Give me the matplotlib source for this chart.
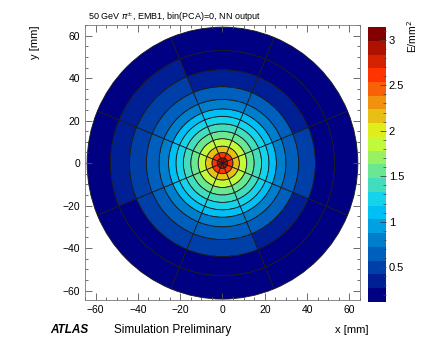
import matplotlib
matplotlib.use("Agg")
import matplotlib.pyplot as plt
import numpy as np
from matplotlib.patches import Wedge
from matplotlib.collections import PatchCollection
from matplotlib.colors import LinearSegmentedColormap, BoundaryNorm
from matplotlib.ticker import MultipleLocator

plt.rcParams['font.family'] = ['Liberation Sans', 'DejaVu Sans']

# radial bin edges [mm] and angular bin edges [deg]
r_edges = [0, 2.5, 5, 8, 11.5, 15, 18.5, 22, 25.5, 30, 36, 44, 53, 64]
phi_edges = [-22.5, 22.5, 67.5, 112.5, 157.5, 202.5, 247.5, 292.5, 337.5]

# energy density per ring (rows) and sector (cols: right, up-right, up, up-left,
# left, down-left, down, down-right)
energy = [
    [2.95, 2.95, 2.95, 2.95, 2.95, 2.95, 2.95, 2.95],
    [2.60, 2.60, 2.60, 2.60, 2.60, 2.60, 2.60, 2.60],
    [2.10, 2.10, 2.10, 2.10, 2.10, 2.10, 2.10, 2.10],
    [1.85, 1.85, 1.85, 1.85, 1.85, 1.85, 1.85, 1.85],
    [1.60, 1.60, 1.60, 1.60, 1.60, 1.60, 1.60, 1.60],
    [1.40, 1.40, 1.40, 1.40, 1.40, 1.40, 1.40, 1.40],
    [1.22, 1.22, 1.22, 1.22, 1.22, 1.22, 1.22, 1.22],
    [1.05, 1.05, 1.05, 1.05, 1.05, 1.05, 1.05, 1.05],
    [0.85, 0.85, 0.85, 0.85, 0.85, 0.85, 0.85, 0.85],
    [0.62, 0.60, 0.62, 0.62, 0.62, 0.62, 0.62, 0.60],
    [0.45, 0.30, 0.42, 0.45, 0.45, 0.45, 0.45, 0.42],
    [0.22, 0.15, 0.18, 0.30, 0.30, 0.20, 0.20, 0.20],
    [0.15, 0.15, 0.15, 0.15, 0.15, 0.15, 0.15, 0.15],
]

zmin, zmax = 0.12, 3.14
n_levels = 20

# ROOT style rainbow palette
stops = [0.00, 0.34, 0.61, 0.84, 1.00]
red = [0.00, 0.00, 0.87, 1.00, 0.51]
green = [0.00, 0.81, 1.00, 0.20, 0.00]
blue = [0.51, 1.00, 0.12, 0.00, 0.00]
cmap = LinearSegmentedColormap.from_list(
    'rootpal', [(s, (r, g, b)) for s, r, g, b in zip(stops, red, green, blue)])
levels = np.linspace(zmin, zmax, n_levels + 1)
norm = BoundaryNorm(levels, cmap.N)

fig = plt.figure(figsize=(4.27, 3.38), dpi=100)
ax = fig.add_axes([0.199, 0.112, 0.644, 0.814])

patches = []
vals = []
for i in range(len(r_edges) - 1):
    for j in range(len(phi_edges) - 1):
        patches.append(Wedge((0, 0), r_edges[i + 1], phi_edges[j], phi_edges[j + 1],
                             width=r_edges[i + 1] - r_edges[i]))
        vals.append(energy[i][j])

pc = PatchCollection(patches, cmap=cmap, norm=norm, edgecolor='#1a1a1a', linewidth=0.6)
pc.set_array(np.array(vals))
ax.add_collection(pc)

ax.set_xlim(-65, 65)
ax.set_ylim(-64.5, 65)
ax.xaxis.set_major_locator(MultipleLocator(20))
ax.xaxis.set_minor_locator(MultipleLocator(5))
ax.yaxis.set_major_locator(MultipleLocator(20))
ax.yaxis.set_minor_locator(MultipleLocator(5))
ax.tick_params(which='both', direction='in', top=True, right=True, labelsize=7.5,
               width=0.6, color='#555555')
ax.tick_params(which='major', length=5)
ax.tick_params(which='minor', length=2.5)
for s in ax.spines.values():
    s.set_linewidth(0.6)
    s.set_color('#777777')

cax = fig.add_axes([0.862, 0.107, 0.042, 0.813])
cb = fig.colorbar(pc, cax=cax, boundaries=levels, ticks=[0.5, 1, 1.5, 2, 2.5, 3])
cb.ax.set_yticklabels(['0.5', '1', '1.5', '2', '2.5', '3'])
cb.outline.set_visible(False)
cb.ax.tick_params(direction='in', length=4, width=0.6, labelsize=8, pad=2, color='#444444')
cb.ax.yaxis.set_minor_locator(MultipleLocator(0.1))
cb.ax.tick_params(which='minor', direction='in', length=2, width=0.5, color='#444444')

fig.text(0.206, 0.948, r'50 GeV $\pi^{\pm}$, EMB1, bin(PCA)=0, NN output',
         fontsize=6.5, ha='left', va='center')
fig.text(0.082, 0.926, 'y [mm]', rotation=90, fontsize=8, ha='center', va='top')
fig.text(0.862, 0.024, 'x [mm]', fontsize=8, ha='right', va='center')
fig.text(0.117, 0.024, 'ATLAS', fontsize=8.5, fontweight='bold', style='italic',
         ha='left', va='center')
fig.text(0.268, 0.024, 'Simulation Preliminary', fontsize=8.5, ha='left', va='center')
fig.text(0.965, 0.94, r'E/mm$^2$', rotation=90, fontsize=7.5, ha='center', va='top')

fig.savefig('out.png', dpi=100)
